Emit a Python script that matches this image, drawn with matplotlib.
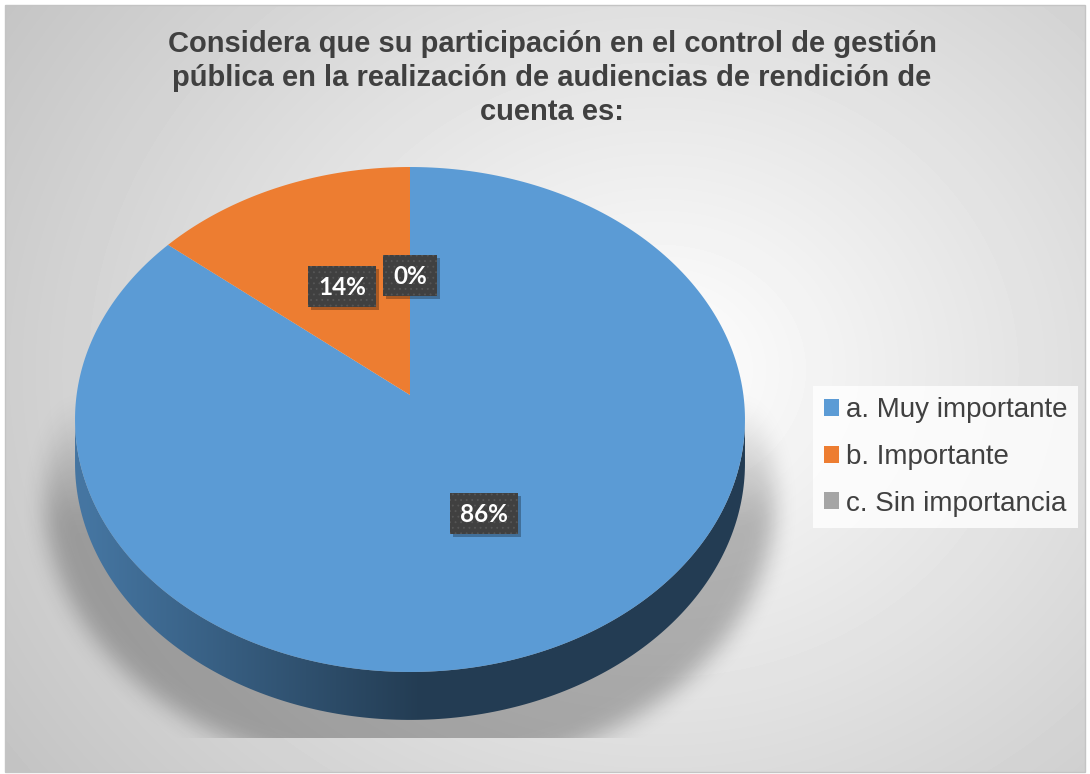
import matplotlib.pyplot as plt
import numpy as np
from matplotlib.patches import Polygon, Patch, Rectangle

plt.rcParams["font.family"] = ["Liberation Sans", "DejaVu Sans"]
plt.rcParams["hatch.linewidth"] = 0.6

W, H = 1090, 774

title = ("Considera que su participación en el control de gestión\n"
         "pública en la realización de audiencias de rendición de\n"
         "cuenta es:")
categories = ["a. Muy importante", "b. Importante", "c. Sin importancia"]
shares = [86, 14, 0]
pct_labels = ["86%", "14%", "0%"]
colors = ["#5B9BD5", "#ED7D31", "#A5A5A5"]

# tilted disc seen in perspective, all in figure pixels
CX, CY = 410, 395
RX, RY = 333.4, 250.1
PERSP = 0.097
DEPTH = 43.3


def project(r, t, drop=0.0):
    s = 1 + PERSP * r * np.sin(t)
    x = CX + RX * r * np.cos(t) / s
    y = CY - RY * r * np.sin(t) / s + drop / s
    return x, y


def box_blur(a, k, n=3):
    for _ in range(n):
        for axis in (0, 1):
            pad = [(0, 0), (0, 0)]
            pad[axis] = (k // 2 + 1, k // 2)
            c = np.cumsum(np.pad(a, pad, mode="edge"), axis=axis)
            if axis == 0:
                a = (c[k:] - c[:-k]) / k
            else:
                a = (c[:, k:] - c[:, :-k]) / k
    return a


fig = plt.figure(figsize=(W / 100, H / 100), dpi=100)
fig.patch.set_facecolor("white")
ax = fig.add_axes([0, 0, 1, 1])
ax.set_xlim(0, W)
ax.set_ylim(H, 0)
ax.axis("off")

# background radial gradient
yy, xx = np.mgrid[0:H, 0:W] + 0.5
dist = np.hypot((xx - 660) / 560, (yy - 370) / 480)
bg = np.clip(255 - 42 * dist, 0, 255) / 255
x0, x1, y0, y1 = 5, 1085, 5, 772
ax.imshow(bg[y0:y1, x0:x1], cmap="gray", vmin=0, vmax=1,
          extent=(x0, x1, y1, y0), zorder=0, interpolation="bilinear")
ax.add_patch(Rectangle((x0, y0), x1 - x0, y1 - y0, fill=False,
                       ec="#c4c4c4", lw=1, zorder=1))

# soft floor shadow under the pie
mask = (((xx - 410) / 365) ** 2 + ((yy - 500) / 275) ** 2 <= 1).astype(float)
mask *= np.clip((yy - 400) / 120, 0, 1)
mask = box_blur(mask, 21)
mask[yy > 738] = 0
shadow = np.zeros((H, W, 4))
shadow[..., 3] = 0.26 * mask
ax.imshow(shadow, extent=(0, W, H, 0), zorder=2)

# side wall, one piece per slice where it faces the viewer
total = sum(shares)
t_left = np.pi + np.arcsin(PERSP)
t_right = 2 * np.pi - np.arcsin(PERSP)
start = 90.0
for share, color in zip(shares, colors):
    sweep = share / total * 360
    a0 = np.radians(start - sweep)
    a1 = np.radians(start)
    start -= sweep
    if sweep == 0:
        continue
    for k in (-1, 0, 1):
        lo = max(a0 + 2 * np.pi * k, t_left)
        hi = min(a1 + 2 * np.pi * k, t_right)
        if hi <= lo:
            continue
        t = np.linspace(lo, hi, 200)
        tx, ty = project(1, t)
        bx, by = project(1, t[::-1], DEPTH)
        side = Polygon(np.column_stack([np.r_[tx, bx], np.r_[ty, by]]),
                       closed=True, fc="none", ec="none")
        ax.add_patch(side)
        rgb = np.array(plt.matplotlib.colors.to_rgb(color))
        f = np.clip((np.arange(W) - 85) / 335, 0, 1)
        shade = 0.76 - 0.37 * f
        grad = np.tile((shade[:, None] * rgb)[None, :, :], (2, 1, 1))
        im = ax.imshow(grad, extent=(0, W, H, 0), zorder=3,
                       interpolation="bilinear")
        im.set_clip_path(side)

# top face
start = 90.0
label_pos = []
for share, color in zip(shares, colors):
    sweep = share / total * 360
    mid = np.radians(start - sweep / 2)
    label_pos.append(project(0.5, mid))
    if sweep > 0:
        t = np.radians(np.linspace(start, start - sweep, 300))
        px, py = project(1, t)
        ax.add_patch(Polygon(np.column_stack([np.r_[CX, px], np.r_[CY, py]]),
                             closed=True, fc=color, ec="none", zorder=4))
    start -= sweep

# data labels: dark boxes sized around the text
renderer = fig.canvas.get_renderer()
for lab, (lx, ly) in zip(pct_labels, label_pos):
    txt = ax.text(lx, ly + 1, lab, fontsize=17.5, fontweight="bold",
                  family=["Lato", "DejaVu Sans"], ha="center", va="center",
                  color="white", zorder=7)
    bw = txt.get_window_extent(renderer).width + 20
    bh = 41
    ax.add_patch(Rectangle((lx - bw / 2 + 3, ly - bh / 2 + 3), bw, bh,
                           fc=(0, 0, 0, 0.28), ec="none", zorder=5))
    ax.add_patch(Rectangle((lx - bw / 2, ly - bh / 2), bw, bh,
                           fc="#404040", ec="#565656", lw=0, hatch="...",
                           zorder=6))

ax.text(552, 78, title, fontsize=21, fontweight="bold", color="#404040",
        ha="center", va="center", linespacing=1.25, zorder=6)

handles = [Patch(fc=c, ec="none") for c in colors]
leg = fig.legend(handles, categories, loc="center left",
                 bbox_to_anchor=(813 / W, 1 - 457 / H), fontsize=20,
                 labelcolor="#404040", frameon=True, fancybox=False,
                 handlelength=0.55, handleheight=0.55, handletextpad=0.22,
                 labelspacing=0.74, borderpad=0.4, borderaxespad=0)
leg.get_frame().set_facecolor((1, 1, 1, 0.45))
leg.get_frame().set_edgecolor("none")

fig.savefig("out.png", dpi=100)
